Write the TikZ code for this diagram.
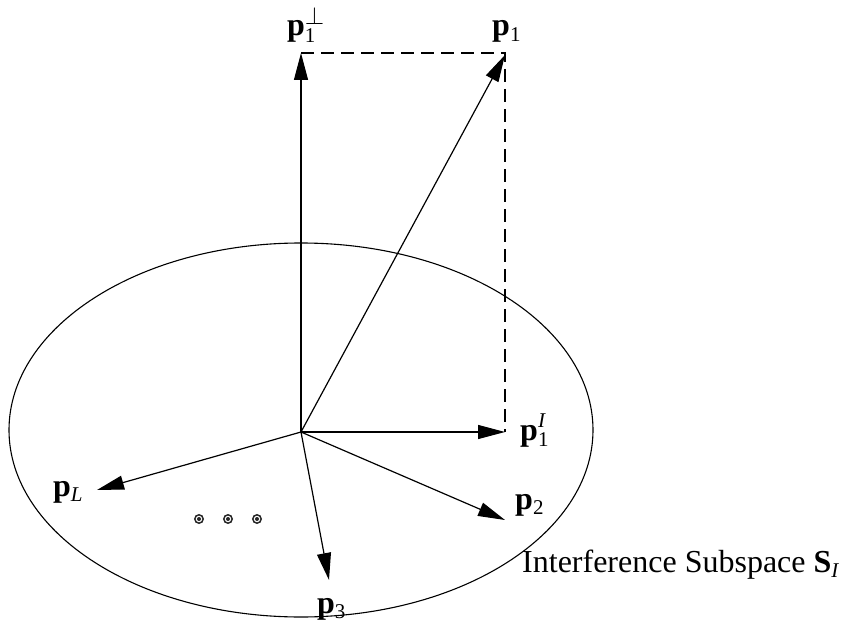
\documentclass[tikz,border=0pt]{standalone}
\usepackage{fontspec}
\setmainfont{Liberation Serif}
\usetikzlibrary{arrows.meta}
\newcommand\smtxt[1]{\hbox{\fontsize{21}{21}\selectfont #1}}
\begin{document}
\begin{tikzpicture}[x=1pt,y=-1pt,
  vec/.style={line width=1.2pt,-{Triangle[length=27pt,width=14pt]}},
  proj/.style={line width=1.2pt,dash pattern=on 13pt off 7pt},
  lbl/.style={anchor=base west,inner sep=0pt,font=\fontsize{32}{38}\selectfont},
  dotring/.style={line width=1.5pt,draw=black!85}]
\useasboundingbox (0,0) rectangle (844,626);
% ellipse (subspace)
\draw[line width=1.1pt] (301,430) ellipse [x radius=292, y radius=187];
% points
\coordinate (O) at (301,432);
\coordinate (tperp) at (301,53);
\coordinate (corner) at (505,53);
\coordinate (t1) at (505,55);
\coordinate (tI) at (505,432);
\coordinate (tL) at (97,490);
\coordinate (t2) at (505,520);
\coordinate (t3) at (329,580);
% dashed projection lines
\draw[proj] (tperp) -- (corner) -- (tI);
% vectors
\draw[vec] (O) -- (tperp);
\draw[vec] (O) -- (t1);
\draw[vec] (O) -- (tI);
\draw[vec] (O) -- (tL);
\draw[vec] (O) -- (t2);
\draw[vec] (O) -- (t3);
% labels
\node[lbl] (lperp) at (287,36) {\textbf{p}$^{\raisebox{2pt}{$\perp$}}_{\smtxt{1}}$};
\node[lbl] (l1) at (492,36) {\textbf{p}$_{\smtxt{1}}$};
\node[lbl] (lI) at (520,440) {\textbf{p}$^{\smtxt{\raisebox{3pt}{\itshape I}}}_{\smtxt{1}}$};
\node[lbl] (lL) at (53,496) {\textbf{p}$_{\smtxt{\itshape L}}$};
\node[lbl] (l2) at (515,509) {\textbf{p}$_{\smtxt{2}}$};
\node[lbl] (l3) at (317,613) {\textbf{p}$_{\smtxt{3}}$};
\node[lbl] (lS) at (522,572) {Interference Subspace \textbf{S}$_{\smtxt{\itshape I}}$};
% dots
\foreach \x in {199,228,257}{
  \draw[dotring] (\x,519) circle [radius=4.2];
  \fill[black!85] (\x,519) circle [radius=2];
}
\end{tikzpicture}
\end{document}
